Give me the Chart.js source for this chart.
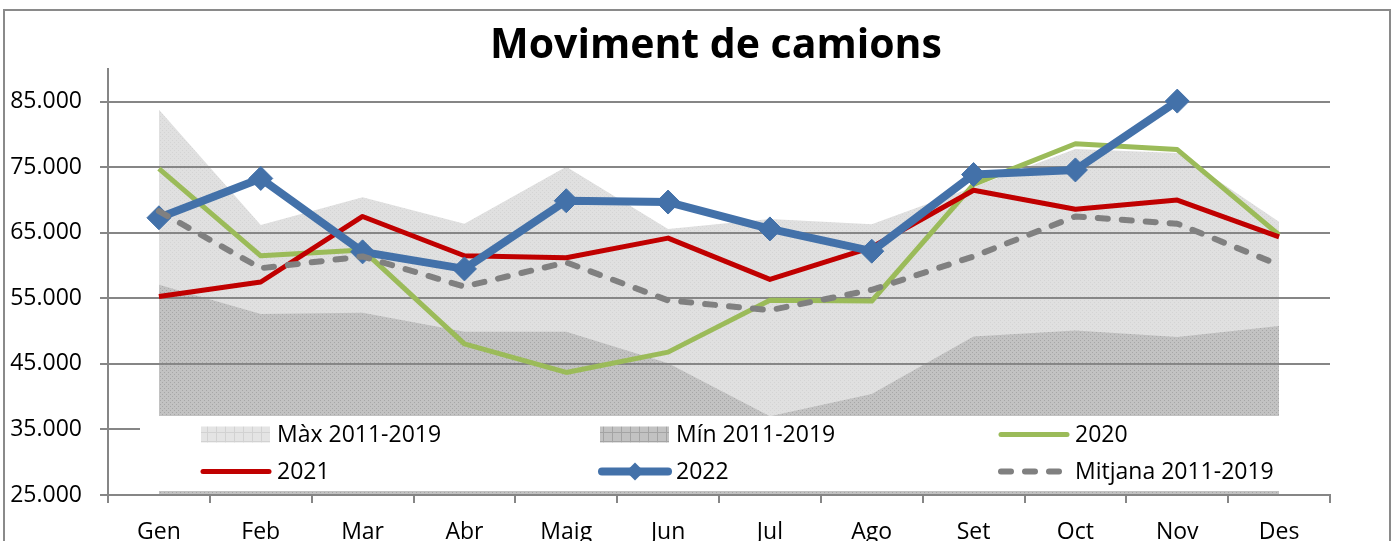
<!DOCTYPE html>
<html>
<head>
<meta charset="utf-8">
<script src="https://cdn.jsdelivr.net/npm/chart.js@4.4.0/dist/chart.umd.min.js"></script>
<style>
  html, body { margin: 0; padding: 0; background: #fff; }
  canvas { display: block; }
</style>
</head>
<body>
<canvas id="camionsChart" width="1392" height="541"></canvas>
<script>
(function () {
  'use strict';

  // Chart data
  const months = ['Gen', 'Feb', 'Mar', 'Abr', 'Maig', 'Jun', 'Jul', 'Ago', 'Set', 'Oct', 'Nov', 'Des'];
  const maxValues = [83800, 66200, 70450, 66400, 75100, 65600, 67100, 66300, 72000, 77800, 77200, 66700];
  const minValues = [57100, 52600, 52800, 49900, 49900, 45100, 37000, 40400, 49200, 50100, 49100, 50800];
  const values2020 = [74800, 61500, 62400, 48050, 43700, 46800, 54700, 54600, 72400, 78600, 77700, 64700];
  const values2021 = [55300, 57500, 67500, 61500, 61200, 64200, 57900, 62800, 71500, 68600, 70000, 64400];
  const values2022 = [67300, 73300, 62100, 59500, 69900, 69700, 65600, 62200, 73900, 74600, 85100, null];
  const avgValues = [68300, 59600, 61400, 56800, 60500, 54700, 53200, 56300, 61400, 67500, 66400, 60100];
  const yTicks = [25000, 35000, 45000, 55000, 65000, 75000, 85000];
  const yMin = 25000;
  const yMax = 90000;

  const FONT = '"Open Sans", "DejaVu Sans", sans-serif';
  const AXIS_GRAY = '#868686';
  const colors = {
    green: '#9bbb59',
    red: '#c00000',
    blue: '#4371a9',
    gray: '#808080',
  };

  const canvas = document.getElementById('camionsChart');
  const mainCtx = canvas.getContext('2d');

  // Small dotted texture like the Excel pattern fills
  function dotPattern(base, dot) {
    const c = document.createElement('canvas');
    c.width = 4;
    c.height = 4;
    const g = c.getContext('2d');
    g.fillStyle = base;
    g.fillRect(0, 0, 4, 4);
    g.fillStyle = dot;
    g.fillRect(0, 0, 1, 1);
    g.fillRect(2, 2, 1, 1);
    return mainCtx.createPattern(c, 'repeat');
  }

  // Grid texture used by the legend swatches
  function gridPattern(base, line) {
    const c = document.createElement('canvas');
    c.width = 9;
    c.height = 9;
    const g = c.getContext('2d');
    g.fillStyle = base;
    g.fillRect(0, 0, 9, 9);
    g.fillStyle = line;
    g.fillRect(0, 0, 9, 1);
    g.fillRect(0, 0, 1, 9);
    return mainCtx.createPattern(c, 'repeat');
  }

  function formatThousands(v) {
    return String(v).replace(/\B(?=(\d{3})+(?!\d))/g, '.');
  }

  /**
   * Legend drawn inside the plot area on a white box, 3 columns x 2 rows.
   */
  const insideLegend = {
    id: 'insideLegend',
    afterDatasetsDraw(chart) {
      const ctx = chart.ctx;
      const a = chart.chartArea;
      const left = a.left + 32;
      const top = a.bottom - 79;
      const bottom = a.bottom - 4;
      const colW = 399;
      const rowY = [top + 18.5, top + 55.5];

      ctx.save();
      ctx.fillStyle = '#fff';
      ctx.fillRect(left, top, a.right - left, bottom - top);

      chart.data.datasets.forEach(function (ds, i) {
        const x0 = left + 61 + (i % 3) * colW;
        const y = rowY[Math.floor(i / 3)];

        if (ds.fill) {
          ctx.fillStyle = ds.legendFill;
          ctx.fillRect(x0, y - 8, 69, 16);
        } else {
          ctx.beginPath();
          ctx.strokeStyle = ds.borderColor;
          ctx.lineWidth = ds.borderWidth;
          ctx.lineCap = 'round';
          ctx.setLineDash(ds.borderDash || []);
          ctx.moveTo(x0 + 2, y);
          ctx.lineTo(x0 + 68, y);
          ctx.stroke();
          ctx.setLineDash([]);
          if (ds.pointRadius) {
            ctx.fillStyle = ds.borderColor;
            Chart.helpers.drawPoint(ctx, {
              pointStyle: ds.pointStyle,
              rotation: 0,
              radius: 9,
              borderWidth: 0,
            }, x0 + 35, y);
          }
        }

        ctx.fillStyle = '#000';
        ctx.font = '23px ' + FONT;
        ctx.textAlign = 'left';
        ctx.textBaseline = 'middle';
        ctx.fillText(ds.label, x0 + 76, y + 1);
      });
      ctx.restore();
    },
  };

  /**
   * Title and outer frame.
   */
  const titleAndFrame = {
    id: 'titleAndFrame',
    afterDraw(chart) {
      const ctx = chart.ctx;
      const a = chart.chartArea;
      ctx.save();
      ctx.fillStyle = '#000';
      ctx.font = 'bold 41px ' + FONT;
      ctx.textAlign = 'center';
      ctx.textBaseline = 'middle';
      ctx.fillText('Moviment de camions', (a.left + a.right) / 2 - 3, 46);

      ctx.strokeStyle = '#8a8a8a';
      ctx.lineWidth = 2;
      ctx.strokeRect(4, 10, 1386, 600);
      ctx.restore();
    },
  };

  const lineBase = {
    fill: false,
    pointRadius: 0,
    pointHoverRadius: 0,
    tension: 0,
    borderJoinStyle: 'round',
  };

  new Chart(canvas, {
    type: 'line',
    data: {
      labels: months,
      datasets: [
        {
          label: 'Màx 2011-2019',
          data: maxValues,
          fill: 'start',
          backgroundColor: dotPattern('#e0e0e0', '#d4d4d4'),
          legendFill: gridPattern('#e4e4e4', '#d2d2d2'),
          borderWidth: 0,
          pointRadius: 0,
          tension: 0,
          order: 6,
        },
        {
          label: 'Mín 2011-2019',
          data: minValues,
          fill: 'start',
          backgroundColor: dotPattern('#c2c2c2', '#a6a6a6'),
          legendFill: gridPattern('#c2c2c2', '#a4a4a4'),
          borderWidth: 0,
          pointRadius: 0,
          tension: 0,
          order: 5,
        },
        Object.assign({}, lineBase, {
          label: '2020',
          data: values2020,
          borderColor: colors.green,
          borderWidth: 5,
          order: 4,
        }),
        Object.assign({}, lineBase, {
          label: '2021',
          data: values2021,
          borderColor: colors.red,
          borderWidth: 5,
          order: 3,
        }),
        Object.assign({}, lineBase, {
          label: '2022',
          data: values2022,
          borderColor: colors.blue,
          borderWidth: 8,
          pointStyle: 'rectRot',
          pointRadius: 12,
          pointBackgroundColor: colors.blue,
          pointBorderColor: colors.blue,
          pointBorderWidth: 1,
          order: 2,
        }),
        Object.assign({}, lineBase, {
          label: 'Mitjana 2011-2019',
          data: avgValues,
          borderColor: colors.gray,
          borderWidth: 6,
          borderDash: [10, 14],
          borderCapStyle: 'round',
          order: 1,
        }),
      ],
    },
    options: {
      responsive: false,
      animation: false,
      events: [],
      layout: { padding: { top: 69, right: 62, left: 0, bottom: 0 } },
      plugins: {
        legend: { display: false },
        title: { display: false },
        tooltip: { enabled: false },
        filler: { drawTime: 'beforeDraw' },
      },
      scales: {
        x: {
          offset: true,
          afterFit: function (scale) {
            scale.height = 46;
          },
          grid: {
            offset: true,
            drawOnChartArea: false,
            drawTicks: true,
            tickLength: 8,
            color: AXIS_GRAY,
            lineWidth: 2,
          },
          border: { color: AXIS_GRAY, width: 2 },
          ticks: {
            color: '#000',
            font: { family: FONT, size: 23 },
            padding: 16,
            maxRotation: 0,
            autoSkip: false,
          },
        },
        y: {
          min: yMin,
          max: yMax,
          afterBuildTicks: function (scale) {
            scale.ticks = yTicks.map(function (v) {
              return { value: v };
            });
          },
          afterFit: function (scale) {
            scale.width = 108;
          },
          grid: {
            color: AXIS_GRAY,
            lineWidth: 2,
            drawTicks: true,
            tickLength: 8,
          },
          border: { color: AXIS_GRAY, width: 2 },
          ticks: {
            color: '#000',
            font: { family: FONT, size: 23 },
            padding: 18,
            callback: function (v) {
              return formatThousands(v);
            },
          },
        },
      },
    },
    plugins: [insideLegend, titleAndFrame],
  });
})();
</script>
</body>
</html>
